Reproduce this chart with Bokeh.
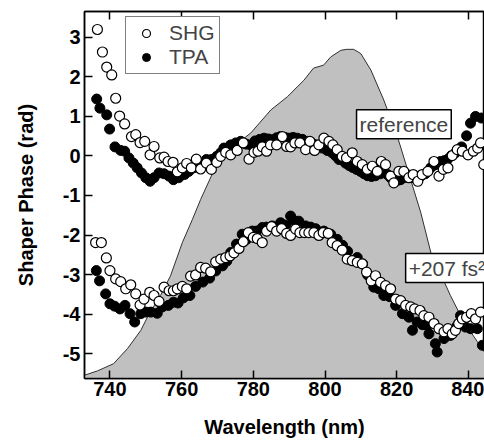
from bokeh.plotting import figure
from bokeh.models import Range1d, LinearAxis, FixedTicker, Legend, LegendItem, Label
from bokeh.embed import file_html
from bokeh.resources import INLINE

# ---- data ----
x_ticks = [740, 760, 780, 800, 820, 840]
y_ticks = [-5, -4, -3, -2, -1, 0, 1, 2, 3]

spec_wl = [732.9, 736.5, 741.0, 744.9, 748.6, 750.9, 754.1, 756.9, 760.2, 763.0,
           765.3, 770.0, 774.5, 779.3, 784.9, 789.5, 794.1, 796.8, 799.6, 801.6,
           804.4, 806.0, 808.0, 810.0, 812.8, 816.4, 820.2, 823.9, 826.7, 829.5,
           835.0, 838.7, 842.5, 844.5]
spec_int = [0.010, 0.023, 0.045, 0.091, 0.146, 0.196, 0.252, 0.312, 0.413, 0.483,
            0.544, 0.656, 0.705, 0.746, 0.816, 0.856, 0.906, 0.943, 0.952, 0.977,
            0.997, 1.0, 1.0, 0.987, 0.937, 0.846, 0.735, 0.604, 0.505, 0.384,
            0.252, 0.172, 0.112, 0.080]

shg_ref_wl = [736.5, 737.9, 739.1, 740.5, 741.6, 742.7, 744.1, 746.0, 747.2, 748.4,
              749.7, 751.2, 752.3, 753.9, 755.1, 756.2, 757.6, 758.8, 760.2, 761.4,
              762.7, 764.1, 765.3, 766.9, 768.3, 769.8, 770.9, 772.3, 773.7, 775.5,
              777.2, 778.8, 780.2, 781.3, 782.5, 783.7, 784.8, 786.5, 788.1, 789.3,
              790.4, 791.6, 793.0, 794.6, 795.8, 797.1, 798.3, 799.7, 801.1, 802.2,
              803.4, 804.8, 806.0, 807.6, 809.0, 810.4, 811.8, 813.2, 814.6, 815.7,
              816.9, 818.3, 819.2, 820.6, 822.0, 823.4, 824.6, 825.9, 827.1, 828.7,
              830.4, 831.8, 833.0, 834.3, 835.5, 836.9, 838.3, 839.9, 841.4, 842.6,
              843.4, 844.3]
shg_ref_ph = [3.20, 2.63, 2.25, 2.05, 1.46, 1.01, 0.81, 0.49, 0.54, 0.34,
              0.37, 0.03, 0.24, -0.05, -0.03, -0.14, -0.16, -0.40, -0.30, -0.19,
              -0.30, -0.08, -0.33, -0.18, -0.34, -0.16, -0.01, 0.09, 0.03, 0.14,
              0.33, -0.08, 0.09, 0.12, 0.23, 0.12, 0.28, 0.28, 0.49, 0.24,
              0.23, 0.33, 0.33, 0.16, 0.37, 0.14, 0.28, 0.45, 0.37, 0.28,
              0.16, -0.01, -0.05, 0.08, -0.14, -0.22, -0.34, -0.26, -0.39, -0.14,
              -0.22, -0.51, -0.68, -0.39, -0.39, -0.55, -0.47, -0.64, -0.47, -0.39,
              -0.14, -0.51, -0.34, -0.30, 0.01, 0.16, 0.12, 0.03, 0.12, 0.20,
              0.33, -0.22]

tpa_ref_wl = [736.3, 737.2, 739.1, 739.9, 741.4, 743.0, 744.1, 745.3, 746.5, 747.6,
              748.8, 750.0, 751.2, 752.3, 753.7, 755.1, 756.5, 757.7, 759.2, 760.8,
              762.0, 763.4, 765.3, 766.9, 768.3, 769.8, 770.9, 771.8, 773.7, 775.1,
              776.5, 778.0, 779.2, 780.5, 781.8, 783.0, 784.2, 785.3, 786.5, 787.6,
              788.8, 789.9, 791.1, 792.3, 793.7, 795.1, 796.3, 797.4, 798.3, 799.2,
              800.6, 802.0, 803.0, 803.9, 805.7, 806.7, 807.7, 808.8, 809.9, 810.9,
              811.9, 813.0, 814.1, 815.5, 817.4, 818.3, 819.2, 820.2, 821.1, 822.0,
              822.9, 823.8, 824.7, 825.7, 826.7, 828.0, 829.5, 830.8, 832.2, 833.2,
              834.1, 835.2, 836.4, 837.3, 838.1, 839.5, 840.6, 842.0, 843.6]
tpa_ref_ph = [1.44, 1.21, 1.04, 0.68, 0.23, 0.14, 0.12, -0.05, -0.18, -0.30,
              -0.43, -0.55, -0.64, -0.55, -0.43, -0.45, -0.51, -0.60, -0.55, -0.47,
              -0.39, -0.30, -0.18, -0.09, -0.09, -0.01, 0.08, 0.20, 0.28, 0.33,
              0.37, 0.30, 0.28, 0.38, 0.42, 0.45, 0.43, 0.41, 0.46, 0.49,
              0.47, 0.45, 0.47, 0.45, 0.42, 0.37, 0.33, 0.28, 0.24, 0.20,
              0.14, 0.08, 0.00, -0.09, -0.18, -0.24, -0.29, -0.34, -0.39, -0.45,
              -0.50, -0.52, -0.50, -0.45, -0.47, -0.55, -0.60, -0.62, -0.60, -0.55,
              -0.47, -0.50, -0.55, -0.58, -0.51, -0.45, -0.30, -0.22, -0.14, -0.12,
              -0.09, 0.00, 0.08, 0.15, 0.23, 0.51, 0.83, 1.00, 0.96]

shg_chirp_wl = [736.0, 737.6, 739.0, 740.0, 741.6, 743.0, 744.4, 745.8, 747.2, 748.4,
                749.5, 751.1, 752.3, 753.7, 755.1, 756.5, 757.7, 758.8, 760.2, 761.4,
                762.5, 763.9, 765.3, 766.7, 768.1, 769.5, 770.9, 772.3, 773.5, 774.6,
                776.0, 777.2, 778.6, 780.0, 781.1, 782.5, 783.7, 785.1, 786.5, 787.9,
                789.3, 790.4, 791.8, 793.0, 794.3, 795.5, 796.9, 798.3, 799.5, 800.9,
                802.0, 803.4, 804.8, 806.2, 807.6, 809.0, 810.4, 811.6, 812.9, 814.1,
                815.5, 816.9, 818.3, 819.7, 821.1, 822.5, 823.9, 825.0, 826.5, 827.6,
                829.0, 830.4, 831.8, 833.2, 834.3, 835.5, 836.4, 837.3, 838.3, 839.5,
                840.8, 842.0, 843.4]
shg_chirp_ph = [-2.19, -2.19, -2.58, -2.90, -3.11, -3.18, -3.36, -3.26, -3.49, -3.77,
                -3.62, -3.45, -3.53, -3.68, -3.32, -3.41, -3.41, -3.36, -3.30, -3.36,
                -3.04, -3.01, -2.82, -2.84, -2.93, -2.68, -2.61, -2.57, -2.53, -2.45,
                -2.34, -2.17, -1.94, -2.06, -2.09, -2.19, -1.90, -1.79, -1.90, -1.84,
                -1.96, -2.01, -1.85, -1.94, -1.94, -1.94, -1.94, -2.01, -1.94, -1.96,
                -2.19, -2.27, -2.38, -2.61, -2.65, -2.69, -2.73, -2.94, -3.16, -3.03,
                -3.20, -3.28, -3.36, -3.62, -3.66, -3.78, -3.82, -3.87, -3.91, -4.04,
                -4.08, -4.24, -4.37, -4.45, -4.37, -4.50, -4.41, -4.24, -4.12, -4.08,
                -3.99, -4.12, -3.95]

tpa_chirp_wl = [736.2, 737.1, 738.8, 740.0, 741.3, 742.8, 744.2, 745.6, 746.9, 748.6,
                750.0, 751.4, 753.2, 754.6, 756.3, 757.7, 759.0, 760.5, 762.3, 763.9,
                765.9, 767.8, 769.5, 771.4, 772.6, 773.7, 775.3, 776.9, 778.1, 779.7,
                780.9, 782.5, 783.7, 785.3, 787.6, 789.0, 790.4, 791.3, 792.7, 794.6,
                796.0, 797.4, 799.7, 801.6, 803.4, 804.9, 806.3, 809.0, 810.5, 811.9,
                813.6, 815.0, 816.4, 818.0, 819.7, 821.6, 823.4, 824.4, 825.7, 827.2,
                828.5, 829.0, 830.8, 831.3, 833.2, 835.0, 836.9, 837.8, 839.2, 840.6,
                842.5, 843.9]
tpa_chirp_ph = [-2.90, -3.16, -3.49, -3.74, -3.80, -3.87, -3.78, -3.99, -4.20, -3.99,
                -3.95, -3.95, -3.98, -3.82, -3.78, -3.70, -3.72, -3.59, -3.53, -3.30,
                -3.19, -3.09, -2.91, -2.78, -2.66, -2.44, -2.23, -1.98, -2.11, -1.90,
                -1.90, -1.81, -1.80, -1.77, -1.69, -1.75, -1.52, -1.63, -1.65, -1.77,
                -1.80, -1.84, -1.90, -1.98, -2.11, -2.26, -2.41, -2.57, -2.73, -3.01,
                -3.32, -3.36, -3.53, -3.56, -3.78, -3.99, -4.08, -4.41, -4.20, -4.27,
                -4.29, -4.50, -4.75, -4.96, -4.62, -4.54, -4.29, -4.04, -4.33, -4.37,
                -4.37, -4.79]

series_names = ["SHG", "TPA"]
note_ref = "reference"
note_chirp = "+207 fs\u00b2"

FONT = "Liberation Sans"

p = figure(width=484, height=440, output_backend="svg", toolbar_location=None,
           x_range=Range1d(732.9, 844.5), y_range=Range1d(-5.63, 3.655),
           min_border_left=84, min_border_right=0, min_border_top=11, min_border_bottom=60,
           background_fill_color="white", border_fill_color="white")
p.extra_y_ranges = {"spec": Range1d(0, 1.115)}
p.xgrid.visible = False
p.ygrid.visible = False
p.outline_line_color = "black"
p.outline_line_width = 1.5

# spectrum
p.varea(x=spec_wl, y1=0, y2=spec_int, y_range_name="spec", fill_color="#c0c0c0")
p.line(x=spec_wl, y=spec_int, y_range_name="spec", line_color="#303030", line_width=1)

# data
r_tpa1 = p.scatter(tpa_ref_wl, tpa_ref_ph, marker="circle", size=10, fill_color="black", line_color="black")
r_tpa2 = p.scatter(tpa_chirp_wl, tpa_chirp_ph, marker="circle", size=10, fill_color="black", line_color="black")
r_shg1 = p.scatter(shg_ref_wl, shg_ref_ph, marker="circle", size=10, fill_color="white", line_color="black", line_width=1.2)
r_shg2 = p.scatter(shg_chirp_wl, shg_chirp_ph, marker="circle", size=10, fill_color="white", line_color="black", line_width=1.2)

# axes
def style(ax):
    ax.major_tick_in = 8
    ax.major_tick_out = 0
    ax.minor_tick_in = 0
    ax.minor_tick_out = 0
    ax.axis_line_width = 1.5
    ax.major_tick_line_width = 1.5
    ax.major_label_text_font = FONT
    ax.major_label_text_font_style = "bold"
    ax.major_label_text_font_size = "20px"
    ax.major_label_text_color = "black"
    ax.axis_label_text_color = "black"

xa = p.xaxis[0]
xa.ticker = FixedTicker(ticks=x_ticks)
style(xa)
xa.major_label_standoff = 3
xa.axis_label = "Wavelength (nm)"
xa.axis_label_text_font = FONT
xa.axis_label_text_font_style = "bold"
xa.axis_label_text_font_size = "20px"
xa.axis_label_standoff = 17

ya = p.yaxis[0]
ya.ticker = FixedTicker(ticks=y_ticks)
style(ya)
ya.major_label_overrides = {t: str(t) for t in y_ticks}
ya.major_label_standoff = 4
ya.axis_label = "Shaper Phase (rad)"
ya.axis_label_text_font = FONT
ya.axis_label_text_font_style = "bold"
ya.axis_label_text_font_size = "20px"
ya.axis_label_standoff = 23

top = LinearAxis(ticker=FixedTicker(ticks=x_ticks))
style(top)
top.major_label_overrides = {t: "" for t in x_ticks}
top.major_label_standoff = 0
p.add_layout(top, "above")

# legend
legend = Legend(items=[LegendItem(label=series_names[0], renderers=[r_shg1]),
                       LegendItem(label=series_names[1], renderers=[r_tpa1])],
                location=(41, 304), padding=4, spacing=0, margin=0,
                glyph_width=32, glyph_height=20, label_height=20, label_standoff=7,
                label_text_font=FONT, label_text_font_size="21px",
                border_line_color="black", border_line_width=1.2,
                background_fill_color="white", background_fill_alpha=1.0)
p.add_layout(legend, "center")

# annotations
for xx, yy, txt in [(808.8, 0.80, note_ref), (822.5, -2.835, note_chirp)]:
    p.add_layout(Label(x=xx, y=yy, text=txt, text_font=FONT, text_font_size="21px",
                       text_align="left", text_baseline="middle", padding=3,
                       border_line_color="black", border_line_width=1.5,
                       background_fill_color="white"))

open("out.html", "w").write(file_html(p, INLINE))
